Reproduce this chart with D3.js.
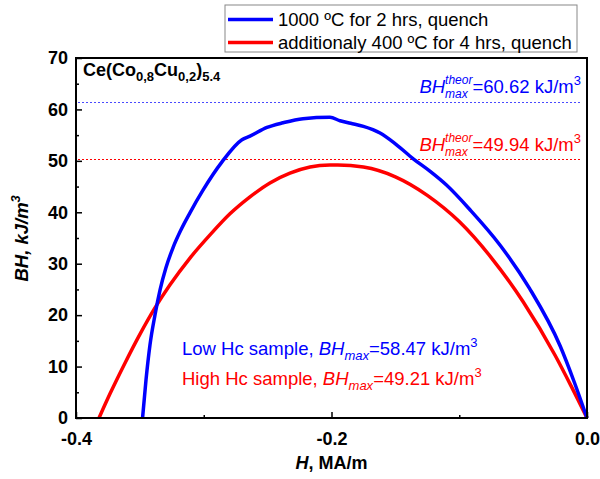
<!DOCTYPE html>
<html>
<head>
<meta charset="utf-8">
<script src="https://cdn.jsdelivr.net/npm/d3@7/dist/d3.min.js"></script>
<style>
	body { margin: 0; background: #fff; }
	svg { font-family: "Liberation Sans", Arial, sans-serif; }
	text { white-space: pre; }
</style>
</head>
<body>
<svg id="chart" width="600" height="479"></svg>
<script>
// low Hc sample (1000 ºC for 2 hrs, quench)
var blueH = [-0.3479, -0.3452, -0.3421, -0.3382, -0.3342, -0.3296, -0.3241, -0.3178, -0.3108, -0.3006, -0.2857, -0.2701, -0.2638, -0.2505, -0.238, -0.2223, -0.2012, -0.1933, -0.185, -0.175, -0.162, -0.15, -0.136, -0.123, -0.11, -0.0916, -0.068, -0.045, -0.021, -0.01, 0];
var blueBH = [0, 7.4, 14.2, 20.0, 24.9, 29.2, 33.1, 36.6, 39.9, 44.3, 49.8, 54.1, 54.8, 56.5, 57.4, 58.2, 58.47, 57.8, 57.3, 56.7, 55.4, 53.3, 50.4, 48.0, 45.3, 40.5, 33.6, 25.2, 14.0, 7.0, 0];
// high Hc sample (additionaly 400 ºC for 4 hrs, quench)
var redH = [-0.382, -0.3734, -0.3616, -0.3499, -0.3382, -0.3264, -0.3108, -0.2951, -0.2795, -0.2638, -0.2482, -0.2325, -0.2168, -0.2012, -0.195, -0.175, -0.15, -0.125, -0.1, -0.075, -0.05, -0.025, -0.012, 0];
var redBH = [0, 4.7, 10.7, 16.3, 21.4, 25.9, 31.1, 35.6, 39.7, 43.0, 45.7, 47.6, 48.8, 49.2, 49.21, 48.8, 46.9, 43.3, 38.2, 31.2, 22.6, 12.2, 6.0, 0];

var seriesNames = ["1000 ºC for 2 hrs, quench", "additionaly 400 ºC for 4 hrs, quench"];
var seriesColors = ["#0000ff", "#ff0000"];
// dotted reference lines (as drawn) and their labels
var theorLines = [61.5, 50.3];
var theorValues = ["60.62", "49.94"];
var sampleNames = ["Low Hc sample,\u00a0", "High Hc sample,\u00a0"];
var maxValues = ["58.47", "49.21"];
var xTicks = [-0.4, -0.2, 0.0];
var xMinor = [-0.3, -0.1];
var yTicks = [0, 10, 20, 30, 40, 50, 60, 70];
var yMinor = [5, 15, 25, 35, 45, 55, 65];

var margin = {top: 58, right: 13, bottom: 61, left: 76};
var svg = d3.select("#chart"),
	width = 600 - margin.left - margin.right,
	height = 479 - margin.top - margin.bottom;

var x = d3.scaleLinear().domain([-0.4, 0]).range([0, width]);
var y = d3.scaleLinear().domain([0, 70]).range([height, 0]);

var g = svg.append("g").attr("transform", "translate(" + margin.left + "," + margin.top + ")");

// text built from pieces, pieces with stack=true share the x of the previous piece
var richText = function(parent, parts, attrs) {
	var grp = parent.append("g");
	var cx = 0, stackStart = 0, stackMax = 0;
	parts.forEach(function(p) {
		var t = grp.append("text")
			.attr("y", p.dy || 0)
			.attr("font-size", p.size)
			.attr("font-style", p.italic ? "italic" : "normal")
			.attr("font-weight", attrs.bold ? "bold" : "normal")
			.attr("fill", attrs.fill || "#000")
			.text(p.text);
		var w = t.node().getComputedTextLength();
		if (p.stack) {
			t.attr("x", stackStart);
			stackMax = Math.max(stackMax, w);
			cx = stackStart + stackMax;
		}
		else {
			t.attr("x", cx);
			stackStart = cx;
			stackMax = w;
			cx += w;
		}
	});
	var shift = attrs.anchor == "end" ? -cx : (attrs.anchor == "middle" ? -cx / 2 : 0);
	grp.attr("transform", "translate(" + (attrs.x + shift) + "," + attrs.y + ")");
	return grp;
};

// reference lines
theorLines.forEach(function(v, i) {
	g.append("line")
		.attr("x1", 2).attr("x2", width - 5)
		.attr("y1", Math.round(y(v)) + 0.5).attr("y2", Math.round(y(v)) + 0.5)
		.attr("stroke", i == 0 ? "#4a4aff" : "#ff0000")
		.attr("stroke-width", 1)
		.attr("shape-rendering", "crispEdges")
		.attr("stroke-dasharray", "2,2");
});

var line = d3.line()
	.x(function(d) { return x(d[0]); })
	.y(function(d) { return y(d[1]); })
	.curve(d3.curveMonotoneX);

var series = [d3.zip(redH, redBH), d3.zip(blueH, blueBH)];
[1, 0].forEach(function(c, k) {
	g.append("path")
		.datum(series[k])
		.attr("fill", "none")
		.attr("stroke", seriesColors[c])
		.attr("stroke-width", 3.5)
		.attr("stroke-linejoin", "round")
		.attr("d", line);
});

// axes, ticks point inwards
var fmt = function(d) { return d.toFixed(1); };
var xAxis = g.append("g").attr("transform", "translate(0," + height + ")")
	.call(d3.axisBottom(x).tickValues(xTicks).tickSizeInner(-6).tickSizeOuter(0).tickPadding(10).tickFormat(fmt));
var xAxisMinor = g.append("g").attr("transform", "translate(0," + height + ")")
	.call(d3.axisBottom(x).tickValues(xMinor).tickSizeInner(-3).tickSizeOuter(0).tickFormat(""));

var yAxis = g.append("g")
	.call(d3.axisLeft(y).tickValues(yTicks).tickSizeInner(-6).tickSizeOuter(0).tickPadding(8));
var yAxisMinor = g.append("g")
	.call(d3.axisLeft(y).tickValues(yMinor).tickSizeInner(-3).tickSizeOuter(0).tickFormat(""));

[xAxis, xAxisMinor, yAxis, yAxisMinor].forEach(function(a) {
	a.selectAll("path.domain").remove();
	a.selectAll("line").attr("stroke", "#000").attr("stroke-width", 1.5);
	a.selectAll("text").attr("font-size", 18).attr("font-weight", "bold").attr("fill", "#000")
		.attr("font-family", "'Liberation Sans', Arial, sans-serif");
});
xAxis.selectAll("text").attr("dy", "0.95em");

// frame
g.append("rect")
	.attr("width", width).attr("height", height)
	.attr("fill", "none").attr("stroke", "#000").attr("stroke-width", 2);

// compound label
richText(g, [
	{text: "Ce(Co", size: 18},
	{text: "0,8", size: 13, dy: 5},
	{text: "Cu", size: 18},
	{text: "0,2", size: 13, dy: 5},
	{text: ")", size: 18},
	{text: "5.4", size: 13, dy: 5}
], {x: 7, y: 18, bold: true});

// theoretical BHmax labels
var theorY = [35, 92.5];
theorValues.forEach(function(v, i) {
	richText(g, [
		{text: "BH", size: 18.5, italic: true},
		{text: "theor", size: 12, italic: true, dy: -9},
		{text: "max", size: 12, italic: true, dy: 5, stack: true},
		{text: "=" + v + " kJ/m", size: 18.5},
		{text: "3", size: 13, dy: -8}
	], {x: width - 6, y: theorY[i], anchor: "end", fill: seriesColors[i]});
});

// sample labels
var sampleY = [297, 327];
sampleNames.forEach(function(s, i) {
	richText(g, [
		{text: s, size: 18.5},
		{text: "BH", size: 18.5, italic: true},
		{text: "max", size: 13, italic: true, dy: 5},
		{text: "=" + maxValues[i] + " kJ/m", size: 18.5},
		{text: "3", size: 13, dy: -8}
	], {x: 106, y: sampleY[i], fill: seriesColors[i]});
});

// axis titles
richText(svg, [
	{text: "H", size: 18, italic: true},
	{text: ", MA/m", size: 18}
], {x: margin.left + width / 2, y: 469, anchor: "middle", bold: true});

var yt = richText(svg, [
	{text: "BH, kJ/m", size: 18.5, italic: true},
	{text: "3", size: 13, italic: true, dy: -8}
], {x: 0, y: 0, bold: true});
var yw = yt.node().getBBox().width;
yt.attr("transform", "translate(28," + (margin.top + height / 2 + yw / 2) + ") rotate(-90)");

// legend
var legend = svg.append("g").attr("transform", "translate(225,5)");
legend.append("rect").attr("width", 352).attr("height", 47)
	.attr("fill", "#fff").attr("stroke", "#888").attr("stroke-width", 1);
seriesNames.forEach(function(name, i) {
	var row = legend.append("g").attr("transform", "translate(0," + (14.5 + i * 23) + ")");
	row.append("line").attr("x1", 3).attr("x2", 48)
		.attr("stroke", seriesColors[i]).attr("stroke-width", 3.5);
	row.append("text").attr("x", 53).attr("y", 6.5).attr("font-size", 18.5).text(name);
});
</script>
</body>
</html>
